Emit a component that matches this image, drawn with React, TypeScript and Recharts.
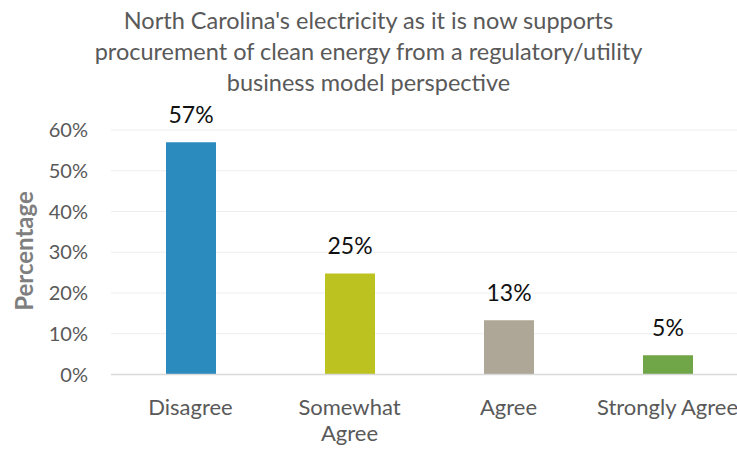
import { BarChart, Bar, XAxis, YAxis, CartesianGrid, Cell, LabelList } from 'recharts';

const categories = ['Disagree', 'Somewhat\nAgree', 'Agree', 'Strongly Agree'];
const percentages = [57, 24.8, 13.3, 4.7];
const barColors = ['#2B8BBF', '#BCC220', '#AEA696', '#70A548'];
const yTicks = [0, 10, 20, 30, 40, 50, 60];
const titleLines = [
  "North Carolina's electricity as it is now supports",
  'procurement of clean energy from a regulatory/utility',
  'business model perspective',
];

const data = categories.map((name, i) => ({ name, value: percentages[i] }));

const FONT = 'Lato, "Open Sans", sans-serif';

function CategoryTick(props: any) {
  const { x, y, payload } = props;
  const lines = String(payload.value).split('\n');
  return (
    <text x={x} y={y} textAnchor="middle" fill="#595959" fontSize={22} fontFamily={FONT}>
      {lines.map((line, i) => (
        <tspan key={i} x={x} dy={i === 0 ? 14 : 26}>
          {line}
        </tspan>
      ))}
    </text>
  );
}

function ValueLabel(props: any) {
  const { x, y, width, value } = props;
  return (
    <text x={x + width / 2} y={y - 19} textAnchor="middle" fill="#111" fontSize={23} fontFamily={FONT}>
      {Math.round(value)}%
    </text>
  );
}

function AxisTitle() {
  return (
    <text
      x={33}
      y={251}
      transform="rotate(-90, 33, 251)"
      textAnchor="middle"
      fill="#7F7F7F"
      fontSize={24}
      fontWeight="bold"
      fontFamily={FONT}
    >
      Percentage
    </text>
  );
}

export default function App() {
  return (
    <div style={{ position: 'absolute', left: 0, top: 0, width: 737, height: 450, overflow: 'hidden', background: '#fff' }}>
      <div
        style={{
          position: 'absolute',
          left: 0,
          top: 5,
          width: 737,
          textAlign: 'center',
          color: '#595959',
          fontFamily: FONT,
          fontSize: 23.5,
          lineHeight: '31px',
        }}
      >
        {titleLines.map((t, i) => (
          <div key={i}>{t}</div>
        ))}
      </div>
      <BarChart width={760} height={450} data={data} margin={{ top: 130, right: 13, bottom: 0, left: 0 }}>
        <CartesianGrid vertical={false} stroke="#EEEEEE" />
        <XAxis
          dataKey="name"
          height={75.5}
          tickLine={false}
          tickSize={0}
          tickMargin={26}
          axisLine={{ stroke: '#D9D9D9', strokeWidth: 1.5 }}
          tick={<CategoryTick />}
          interval={0}
        />
        <YAxis
          width={111}
          domain={[0, 60]}
          ticks={yTicks}
          tickFormatter={(v) => `${v}%`}
          axisLine={false}
          tickLine={false}
          tickSize={0}
          tickMargin={23}
          tick={{ fill: '#595959', fontSize: 20, fontFamily: FONT }}
          label={<AxisTitle />}
        />
        <Bar dataKey="value" barSize={50} isAnimationActive={false}>
          {data.map((d, i) => (
            <Cell key={d.name} fill={barColors[i]} />
          ))}
          <LabelList dataKey="value" content={<ValueLabel />} />
        </Bar>
      </BarChart>
    </div>
  );
}
